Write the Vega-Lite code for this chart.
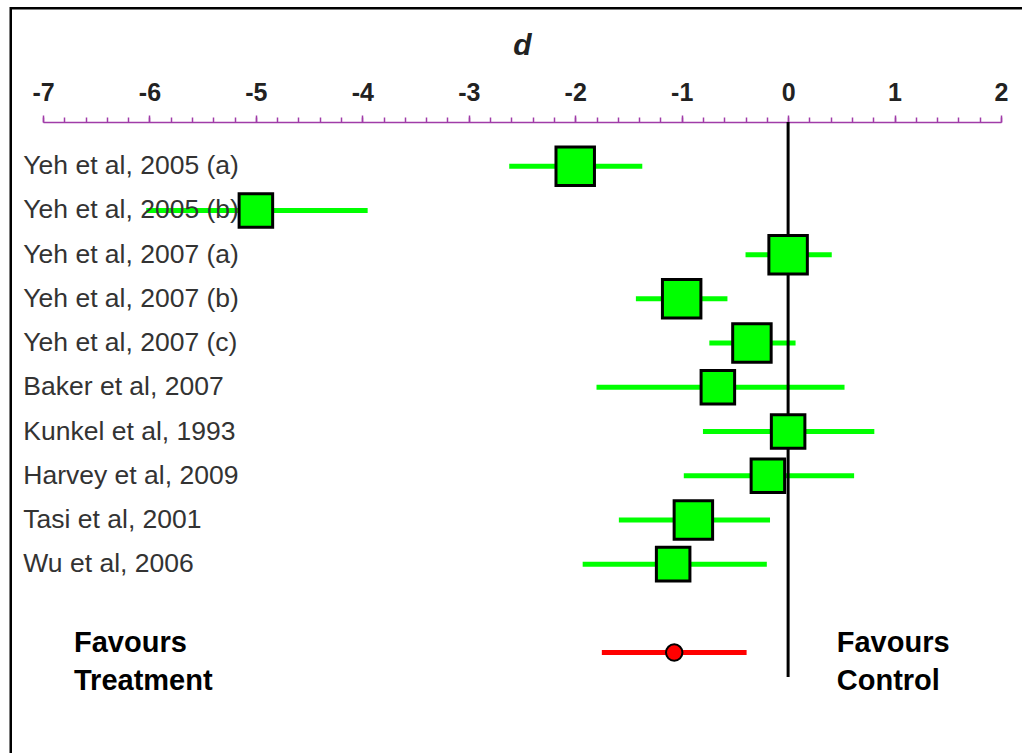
{
  "$schema": "https://vega.github.io/schema/vega-lite/v6.json",
  "width": 958,
  "height": 619,
  "autosize": {"type": "none"},
  "padding": {"left": 43, "top": 122, "right": 21, "bottom": 12},
  "background": "white",
  "config": {"view": {"stroke": null}, "font": "Liberation Sans"},
  "resolve": {"scale": {"x": "shared", "y": "shared"}, "axis": {"x": "independent"}},
  "datasets": {
    "studies": [
      {"study": "Yeh et al, 2005 (a)", "row": 1, "d": -2.0, "lo": -2.62, "hi": -1.37, "weight": 1.0},
      {"study": "Yeh et al, 2005 (b)", "row": 2, "d": -5.0, "lo": -6.03, "hi": -3.95, "weight": 0.76},
      {"study": "Yeh et al, 2007 (a)", "row": 3, "d": 0.0, "lo": -0.4, "hi": 0.41, "weight": 1.0},
      {"study": "Yeh et al, 2007 (b)", "row": 4, "d": -1.0, "lo": -1.43, "hi": -0.57, "weight": 1.0},
      {"study": "Yeh et al, 2007 (c)", "row": 5, "d": -0.34, "lo": -0.74, "hi": 0.07, "weight": 1.0},
      {"study": "Baker et al, 2007", "row": 6, "d": -0.66, "lo": -1.8, "hi": 0.53, "weight": 0.76},
      {"study": "Kunkel et al, 1993", "row": 7, "d": 0.0, "lo": -0.8, "hi": 0.81, "weight": 0.76},
      {"study": "Harvey et al, 2009", "row": 8, "d": -0.19, "lo": -0.98, "hi": 0.62, "weight": 0.76},
      {"study": "Tasi et al, 2001", "row": 9, "d": -0.89, "lo": -1.59, "hi": -0.17, "weight": 1.0},
      {"study": "Wu et al, 2006", "row": 10, "d": -1.08, "lo": -1.93, "hi": -0.2, "weight": 0.76}
    ],
    "summary": [
      {"study": "Overall", "row": 12, "d": -1.07, "lo": -1.75, "hi": -0.39}
    ],
    "single": [{"id": 1}]
  },
  "layer": [
    {
      "data": {"name": "single"},
      "mark": {"type": "rect", "fill": "transparent", "stroke": "black", "strokeWidth": 2.5, "clip": false},
      "encoding": {
        "x": {"datum": -7.303, "type": "quantitative", "scale": {"domain": [-7, 2], "nice": false, "zero": false}, "axis": null},
        "x2": {"datum": 2.6},
        "y": {"datum": -2.572, "type": "quantitative", "scale": {"domain": [0, 14], "reverse": true, "nice": false, "zero": false}, "axis": null},
        "y2": {"datum": 15}
      }
    },
    {
      "data": {"name": "studies"},
      "mark": {"type": "rule", "color": "#00ff00", "strokeWidth": 5},
      "encoding": {
        "x": {"field": "lo", "type": "quantitative", "axis": null},
        "x2": {"field": "hi"},
        "y": {"field": "row", "type": "quantitative", "axis": null}
      }
    },
    {
      "data": {"name": "summary"},
      "mark": {"type": "rule", "color": "#ff0000", "strokeWidth": 5},
      "encoding": {
        "x": {"field": "lo", "type": "quantitative", "axis": null},
        "x2": {"field": "hi"},
        "y": {"field": "row", "type": "quantitative", "axis": null}
      }
    },
    {
      "data": {"name": "single"},
      "mark": {"type": "rule", "color": "black", "strokeWidth": 3},
      "encoding": {
        "x": {"datum": 0, "type": "quantitative", "axis": null},
        "y": {"datum": 0, "type": "quantitative", "axis": null},
        "y2": {"datum": 12.55}
      }
    },
    {
      "data": {"name": "studies"},
      "mark": {"type": "point", "shape": "square", "filled": true, "fill": "#00ff00", "fillOpacity": 1, "stroke": "black", "strokeWidth": 3, "opacity": 1},
      "encoding": {
        "x": {
          "field": "d",
          "type": "quantitative",
          "axis": {
            "orient": "top",
            "title": null,
            "values": [-7, -6.8, -6.6, -6.4, -6.2, -6, -5.8, -5.6, -5.4, -5.2, -5, -4.8, -4.6, -4.4, -4.2, -4, -3.8, -3.6, -3.4, -3.2, -3, -2.8, -2.6, -2.4, -2.2, -2, -1.8, -1.6, -1.4, -1.2, -1, -0.8, -0.6, -0.4, -0.2, 0, 0.2, 0.4, 0.6, 0.8, 1, 1.2, 1.4, 1.6, 1.8, 2],
            "labels": false,
            "tickSize": 5,
            "tickColor": "#a03ca8",
            "tickWidth": 1.5,
            "domainColor": "#a03ca8",
            "domainWidth": 1.5,
            "grid": false
          }
        },
        "y": {"field": "row", "type": "quantitative", "axis": null},
        "size": {"field": "weight", "type": "quantitative", "scale": {"domain": [0, 1], "range": [0, 1480]}, "legend": null}
      }
    },
    {
      "data": {"name": "summary"},
      "mark": {"type": "point", "shape": "circle", "filled": true, "fill": "#ff0000", "fillOpacity": 1, "stroke": "black", "strokeWidth": 2, "size": 270, "opacity": 1},
      "encoding": {
        "x": {
          "field": "d",
          "type": "quantitative",
          "axis": {
            "orient": "top",
            "title": "d",
            "titleFont": "Liberation Sans",
            "titleFontSize": 30,
            "titleFontStyle": "italic",
            "titleFontWeight": "bold",
            "titleColor": "#222222",
            "titleBaseline": "alphabetic",
            "titleY": -68,
            "values": [-7, -6, -5, -4, -3, -2, -1, 0, 1, 2],
            "labelExpr": "'' + datum.value",
            "labelOverlap": false,
            "labelFlush": false,
            "labelFont": "Liberation Sans",
            "labelFontSize": 25,
            "labelFontWeight": "bold",
            "labelColor": "#222222",
            "labelBaseline": "alphabetic",
            "labelPadding": 15,
            "tickSize": 7,
            "tickColor": "#a03ca8",
            "tickWidth": 1.5,
            "domain": false,
            "grid": false
          }
        },
        "y": {"field": "row", "type": "quantitative", "axis": null}
      }
    },
    {
      "data": {"name": "studies"},
      "mark": {"type": "text", "align": "left", "baseline": "middle", "font": "Liberation Sans", "fontSize": 26.5, "color": "#333333", "clip": false},
      "encoding": {
        "x": {"datum": -7.185, "type": "quantitative", "axis": null},
        "y": {"field": "row", "type": "quantitative", "axis": null},
        "text": {"field": "study"}
      }
    },
    {
      "data": {"name": "single"},
      "mark": {"type": "text", "align": "left", "baseline": "alphabetic", "font": "Liberation Sans", "fontSize": 29, "fontWeight": "bold", "color": "black", "lineHeight": 38.3, "text": ["Favours", "Treatment"]},
      "encoding": {
        "x": {"datum": -6.709, "type": "quantitative", "axis": null},
        "y": {"datum": 11.98, "type": "quantitative", "axis": null}
      }
    },
    {
      "data": {"name": "single"},
      "mark": {"type": "text", "align": "left", "baseline": "alphabetic", "font": "Liberation Sans", "fontSize": 29, "fontWeight": "bold", "color": "black", "lineHeight": 38.3, "text": ["Favours", "Control"]},
      "encoding": {
        "x": {"datum": 0.457, "type": "quantitative", "axis": null},
        "y": {"datum": 11.98, "type": "quantitative", "axis": null}
      }
    }
  ]
}
